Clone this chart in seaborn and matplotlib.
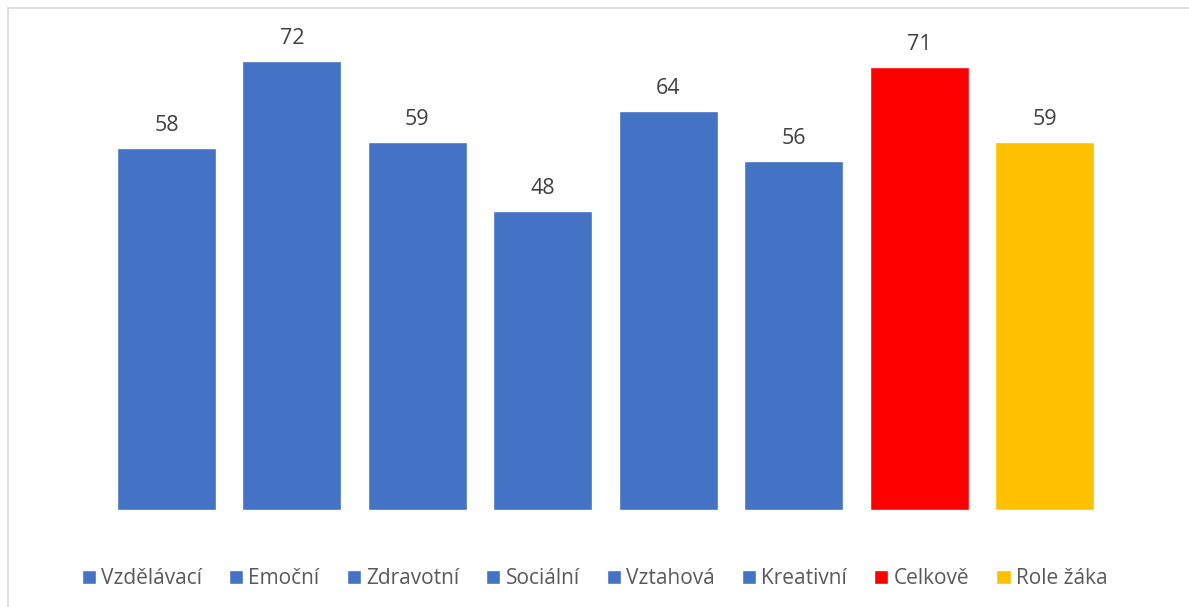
import matplotlib
matplotlib.use("Agg")
import matplotlib.pyplot as plt
import seaborn as sns
import pandas as pd
from matplotlib.patches import Rectangle

categories = ["Vzdělávací", "Emoční", "Zdravotní", "Sociální", "Vztahová", "Kreativní", "Celkově", "Role žáka"]
values = [58, 72, 59, 48, 64, 56, 71, 59]
colors = ["#4472C4", "#4472C4", "#4472C4", "#4472C4", "#4472C4", "#4472C4", "#FF0000", "#FFC000"]

sns.set_theme(style="white")
plt.rcParams["font.family"] = ["Open Sans", "DejaVu Sans"]

df = pd.DataFrame({"cat": categories, "val": values})

fig = plt.figure(figsize=(11.89, 6.07), dpi=100)
ax = fig.add_axes([0.0873, 1 - 510 / 607, 0.9312 - 0.0873, (510 - 11) / 607])

sns.barplot(data=df, x="cat", y="val", hue="cat", palette=colors, order=categories,
            hue_order=categories, dodge=False, width=0.79, saturation=1, legend=True, ax=ax)

for i, v in enumerate(values):
    ax.text(i, v + 2.7, f"{v}", ha="center", va="baseline", fontsize=15.5, color="#404040")

ax.set_ylim(0, 80)
ax.set_xlim(-0.5, 7.5)
ax.set_xlabel("")
ax.set_ylabel("")
ax.set_xticks([])
ax.set_yticks([])
for s in ax.spines.values():
    s.set_visible(False)

handles, labels = ax.get_legend_handles_labels()
ax.legend(handles, labels, loc="center", ncol=8, frameon=False, fontsize=15,
          handlelength=0.68, handleheight=0.68, handletextpad=0.25, columnspacing=1.3,
          labelcolor="#595959")
leg = ax.get_legend()
leg.set_bbox_to_anchor((0.5, 1 - 579 / 607), transform=fig.transFigure)

fig.patches.append(Rectangle((8 / 1189, -0.1), 1.2, 1 - 8 / 607 + 0.1, transform=fig.transFigure,
                             fill=False, edgecolor="#D9D9D9", linewidth=1.2, zorder=0))

fig.savefig("out.png", dpi=100, facecolor="white")
